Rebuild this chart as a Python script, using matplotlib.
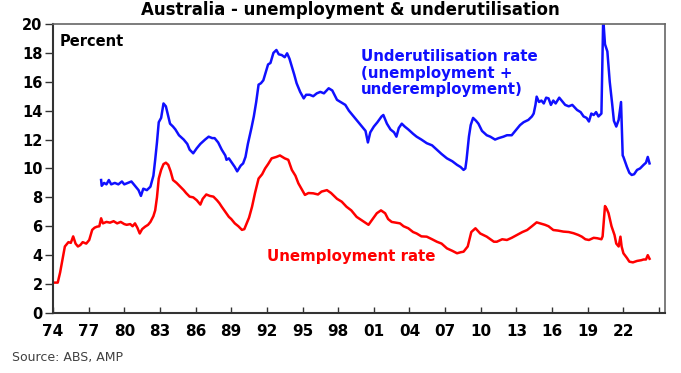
import matplotlib
matplotlib.use("Agg")
import matplotlib.pyplot as plt

plt.rcParams["font.family"] = "DejaVu Sans"

# unemployment rate (%)
unemp_year = [
    1974.0, 1974.4, 1974.6, 1974.8, 1975.0, 1975.3, 1975.5, 1975.7, 1975.9, 1976.1,
    1976.3, 1976.5, 1976.8, 1977.05, 1977.3, 1977.5, 1977.7, 1977.9, 1978.05, 1978.2,
    1978.5, 1978.8, 1979.1, 1979.4, 1979.7, 1980.0, 1980.2, 1980.5, 1980.7, 1980.9,
    1981.1, 1981.3, 1981.5, 1981.75, 1982.0, 1982.2, 1982.45, 1982.6, 1982.75, 1982.9,
    1983.1, 1983.3, 1983.5, 1983.7, 1983.9, 1984.1, 1984.4, 1984.7, 1985.0, 1985.2,
    1985.5, 1985.8, 1986.1, 1986.4, 1986.6, 1986.9, 1987.2, 1987.5, 1987.8, 1988.0,
    1988.2, 1988.5, 1988.8, 1989.0, 1989.3, 1989.6, 1989.9, 1990.1, 1990.3, 1990.5,
    1990.75, 1991.0, 1991.3, 1991.6, 1991.85, 1992.1, 1992.4, 1992.8, 1993.1, 1993.5,
    1993.8, 1994.1, 1994.4, 1994.65, 1994.9, 1995.2, 1995.5, 1995.9, 1996.3, 1996.6,
    1997.05, 1997.4, 1997.9, 1998.3, 1998.7, 1999.1, 1999.55, 2000.0, 2000.55, 2000.9,
    2001.25, 2001.6, 2001.95, 2002.2, 2002.5, 2003.2, 2003.5, 2003.9, 2004.3, 2004.6,
    2005.0, 2005.45, 2005.9, 2006.3, 2006.7, 2007.15, 2007.6, 2008.0, 2008.3, 2008.55,
    2008.9, 2009.2, 2009.55, 2009.95, 2010.5, 2011.1, 2011.35, 2011.8, 2012.2, 2012.6,
    2013.05, 2013.5, 2013.9, 2014.3, 2014.7, 2015.0, 2015.4, 2015.7, 2016.1, 2016.5,
    2016.95, 2017.4, 2017.8, 2018.2, 2018.5, 2018.8, 2019.1, 2019.5, 2019.8, 2020.15,
    2020.25, 2020.45, 2020.6, 2020.75, 2021.0, 2021.25, 2021.4, 2021.6, 2021.75, 2021.85,
    2022.0, 2022.3, 2022.5, 2022.8, 2023.15, 2023.5, 2023.7, 2023.9, 2024.05, 2024.2,
]
unemp_rate = [
    2.1, 2.1, 2.8, 3.7, 4.6, 4.9, 4.85, 5.3, 4.8, 4.6,
    4.7, 4.9, 4.8, 5.05, 5.75, 5.9, 5.97, 6.0, 6.55, 6.2,
    6.3, 6.25, 6.35, 6.2, 6.3, 6.15, 6.1, 6.15, 6.0, 6.2,
    5.9, 5.5, 5.8, 5.97, 6.1, 6.3, 6.7, 7.1, 8.0, 9.3,
    9.9, 10.3, 10.4, 10.25, 9.8, 9.2, 9.0, 8.75, 8.5, 8.3,
    8.05, 8.0, 7.8, 7.5, 7.9, 8.2, 8.1, 8.05, 7.8, 7.6,
    7.35, 7.0, 6.65, 6.5, 6.2, 6.0, 5.75, 5.8, 6.2, 6.6,
    7.35, 8.3, 9.3, 9.6, 10.0, 10.3, 10.7, 10.8, 10.9, 10.7,
    10.6, 9.9, 9.5, 8.97, 8.6, 8.17, 8.3, 8.28, 8.2, 8.4,
    8.5, 8.3, 7.9, 7.7, 7.35, 7.1, 6.65, 6.4, 6.1, 6.5,
    6.9, 7.1, 6.9, 6.5, 6.3, 6.2, 6.0, 5.86, 5.6, 5.5,
    5.3, 5.28, 5.1, 4.93, 4.8, 4.47, 4.3, 4.13, 4.2, 4.24,
    4.6, 5.6, 5.86, 5.5, 5.28, 4.93, 4.93, 5.1, 5.05, 5.2,
    5.4, 5.6, 5.74, 6.0, 6.27, 6.2, 6.1, 6.0, 5.74, 5.7,
    5.63, 5.6, 5.52, 5.4, 5.28, 5.1, 5.05, 5.2, 5.17, 5.1,
    5.3, 7.4, 7.2, 6.9, 6.0, 5.4, 4.8, 4.6, 5.28, 4.6,
    4.13, 3.8, 3.55, 3.5, 3.6, 3.65, 3.7, 3.7, 4.0, 3.75,
]

# underutilisation rate (%)
under_year = [
    1978.05, 1978.1, 1978.3, 1978.5, 1978.7, 1978.9, 1979.2, 1979.5, 1979.8, 1980.0,
    1980.3, 1980.6, 1980.8, 1981.0, 1981.2, 1981.4, 1981.6, 1981.9, 1982.2, 1982.45,
    1982.6, 1982.75, 1982.9, 1983.1, 1983.3, 1983.5, 1983.7, 1983.85, 1984.1, 1984.3,
    1984.6, 1985.0, 1985.3, 1985.5, 1985.8, 1986.1, 1986.4, 1986.8, 1987.1, 1987.4,
    1987.6, 1987.9, 1988.2, 1988.5, 1988.6, 1988.8, 1989.05, 1989.3, 1989.5, 1989.8,
    1990.0, 1990.2, 1990.4, 1990.7, 1990.9, 1991.1, 1991.3, 1991.5, 1991.7, 1992.1,
    1992.3, 1992.55, 1992.8, 1993.0, 1993.25, 1993.5, 1993.7, 1993.9, 1994.1, 1994.3,
    1994.5, 1994.8, 1995.1, 1995.3, 1995.6, 1995.9, 1996.2, 1996.5, 1996.8, 1997.2,
    1997.5, 1997.9, 1998.2, 1998.6, 1998.9, 1999.3, 1999.6, 2000.0, 2000.3, 2000.5,
    2000.7, 2001.0, 2001.3, 2001.65, 2001.8, 2002.1, 2002.4, 2002.7, 2002.9, 2003.1,
    2003.35, 2003.6, 2003.9, 2004.3, 2004.6, 2005.0, 2005.45, 2005.9, 2006.3, 2006.7,
    2007.15, 2007.6, 2008.0, 2008.3, 2008.55, 2008.7, 2008.8, 2009.0, 2009.15, 2009.35,
    2009.6, 2009.8, 2010.1, 2010.5, 2010.8, 2011.2, 2011.5, 2011.9, 2012.2, 2012.6,
    2012.9, 2013.3, 2013.6, 2014.0, 2014.3, 2014.45, 2014.6, 2014.7, 2014.9, 2015.1,
    2015.3, 2015.5, 2015.7, 2015.9, 2016.1, 2016.3, 2016.6, 2016.8, 2017.1, 2017.4,
    2017.7, 2018.1, 2018.4, 2018.65, 2018.9, 2019.1, 2019.3, 2019.5, 2019.7, 2019.9,
    2020.15, 2020.3, 2020.45, 2020.65, 2020.85, 2021.05, 2021.2, 2021.4, 2021.6, 2021.8,
    2021.94, 2022.0, 2022.3, 2022.5, 2022.7, 2022.9, 2023.15, 2023.4, 2023.7, 2023.9,
    2024.05, 2024.2,
]
under_rate = [
    9.2, 8.8, 9.0, 8.9, 9.2, 8.9, 9.0, 8.9, 9.1, 8.9,
    9.0, 9.1, 8.9, 8.7, 8.5, 8.1, 8.6, 8.5, 8.74, 9.5,
    10.6, 11.8, 13.2, 13.5, 14.5, 14.3, 13.6, 13.1, 12.9, 12.7,
    12.3, 12.0, 11.7, 11.3, 11.05, 11.4, 11.7, 12.0, 12.2, 12.1,
    12.1, 11.8, 11.3, 10.9, 10.6, 10.7, 10.4, 10.1, 9.8, 10.2,
    10.35, 10.8, 11.7, 12.8, 13.6, 14.6, 15.8, 15.9, 16.1, 17.2,
    17.3, 18.0, 18.2, 17.9, 17.85, 17.7, 17.97, 17.6, 17.05, 16.5,
    15.9, 15.3, 14.85, 15.1, 15.1, 15.0, 15.2, 15.3, 15.2, 15.55,
    15.4, 14.75, 14.6, 14.4, 14.0, 13.6, 13.3, 12.9, 12.6, 11.8,
    12.5, 12.9, 13.2, 13.6, 13.7, 13.1, 12.7, 12.5, 12.2, 12.8,
    13.1, 12.9, 12.7, 12.4, 12.2, 12.0, 11.75, 11.6, 11.3, 11.0,
    10.7, 10.5, 10.25, 10.1, 9.9, 10.0, 10.6, 12.2, 13.0, 13.5,
    13.3, 13.1, 12.6, 12.3, 12.2, 12.0, 12.1, 12.2, 12.3, 12.3,
    12.6, 13.0, 13.2, 13.36, 13.6, 13.8, 14.4, 14.97, 14.6, 14.7,
    14.5, 14.9, 14.85, 14.4, 14.7, 14.5, 14.9, 14.7, 14.4, 14.3,
    14.4, 14.05, 13.9, 13.6, 13.5, 13.25, 13.8, 13.7, 13.9, 13.6,
    13.8, 20.4, 18.6, 18.1, 16.0, 14.5, 13.3, 12.9, 13.36, 14.6,
    10.9, 10.8, 10.1, 9.7, 9.55, 9.6, 9.9, 10.0, 10.25, 10.4,
    10.8, 10.35,
]

x_ticks = [1974, 1977, 1980, 1983, 1986, 1989, 1992, 1995, 1998, 2001,
           2004, 2007, 2010, 2013, 2016, 2019, 2022, 2025]
x_labels = ["74", "77", "80", "83", "86", "89", "92", "95", "98", "01",
            "04", "07", "10", "13", "16", "19", "22", ""]
y_ticks = [0, 2, 4, 6, 8, 10, 12, 14, 16, 18, 20]

fig = plt.figure(figsize=(6.81, 3.73), dpi=100)
ax = fig.add_subplot(111)
fig.subplots_adjust(left=0.0778, right=0.9765, bottom=0.161, top=0.9357)

ax.plot(under_year, under_rate, color="#1010ff", lw=1.8)
ax.plot(unemp_year, unemp_rate, color="#ff0000", lw=1.8)

ax.set_xlim(1974, 2025.5)
ax.set_ylim(0, 20)
ax.set_xticks(x_ticks)
ax.set_xticklabels(x_labels)
ax.set_yticks(y_ticks)
ax.tick_params(axis="x", direction="in", length=4, width=1, pad=8,
               labelsize=11, color="#333333")
ax.tick_params(axis="y", direction="out", length=5.5, width=1, pad=2,
               labelsize=10.5, color="#333333")
for lab in ax.get_xticklabels() + ax.get_yticklabels():
    lab.set_fontweight("bold")

for s in ["left", "bottom"]:
    ax.spines[s].set_color("#333333")
    ax.spines[s].set_linewidth(1.5)
for s in ["top", "right"]:
    ax.spines[s].set_color("#666666")
    ax.spines[s].set_linewidth(1.2)

ax.text(0.011, 0.941, "Percent", transform=ax.transAxes, fontsize=10.5,
        fontweight="bold", va="center", ha="left")
ax.text(0.503, 0.83, "Underutilisation rate\n(unemployment +\nunderemployment)",
        transform=ax.transAxes, fontsize=10.8, fontweight="bold", color="#1010ff",
        va="center", ha="left", linespacing=1.1)
ax.text(0.35, 0.197, "Unemployment rate", transform=ax.transAxes, fontsize=10.8,
        fontweight="bold", color="#ff0000", va="center", ha="left")

fig.text(350 / 681, 1 - 10 / 373, "Australia - unemployment & underutilisation",
         fontsize=12, fontweight="bold", ha="center", va="center")
fig.text(12 / 681, 1 - 358 / 373, "Source: ABS, AMP", fontsize=9,
         color="#404040", ha="left", va="center")

fig.savefig("out.png", dpi=100)
